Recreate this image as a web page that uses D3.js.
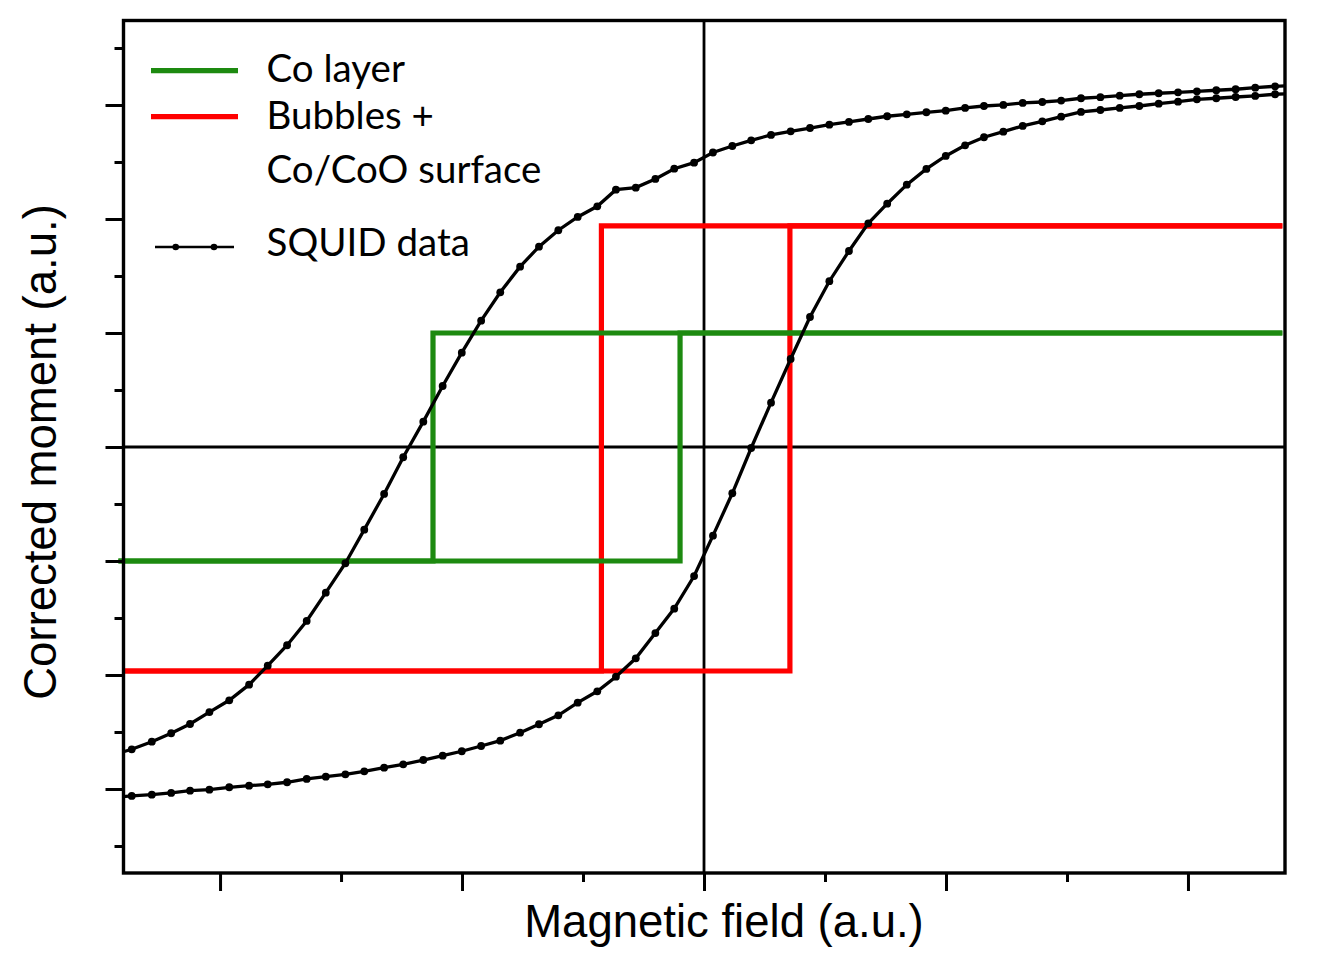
<!DOCTYPE html>
<html>
<head>
<meta charset="utf-8">
<script src="https://cdn.jsdelivr.net/npm/d3@7/dist/d3.min.js"></script>
<style>
  html, body { margin: 0; padding: 0; background: #fff; }
  svg { display: block; }
</style>
</head>
<body>
<svg id="chart" width="1321" height="966"></svg>
<script>
// ---------- DATA ----------
// Field values of the SQUID sweep (a.u.)
const fieldH = [-2.445, -2.365, -2.282, -2.202, -2.124, -2.044, -1.962, -1.880, -1.803, -1.723,
  -1.642, -1.563, -1.482, -1.404, -1.322, -1.243, -1.160, -1.080, -1.001, -0.921,
  -0.842, -0.760, -0.682, -0.602, -0.522, -0.441, -0.364, -0.282, -0.201, -0.123,
  -0.041, 0.037, 0.117, 0.195, 0.277, 0.358, 0.438, 0.518, 0.599, 0.679,
  0.757, 0.838, 0.919, 0.999, 1.079, 1.157, 1.237, 1.317, 1.398, 1.476,
  1.558, 1.638, 1.718, 1.799, 1.879, 1.959, 2.037, 2.117, 2.197, 2.278,
  2.360, 2.438];
// Descending branch (upper curve)
const momentDesc = [-2.702, -2.652, -2.585, -2.511, -2.430, -2.325, -2.222, -2.085, -1.918, -1.739,
  -1.526, -1.278, -1.020, -0.725, -0.412, -0.090, 0.222, 0.535, 0.827, 1.108,
  1.357, 1.582, 1.757, 1.901, 2.018, 2.111, 2.257, 2.275, 2.351, 2.441,
  2.494, 2.583, 2.640, 2.690, 2.737, 2.769, 2.798, 2.827, 2.851, 2.877,
  2.901, 2.918, 2.936, 2.950, 2.974, 2.991, 3.000, 3.018, 3.026, 3.039,
  3.059, 3.068, 3.082, 3.094, 3.103, 3.111, 3.120, 3.129, 3.138, 3.152,
  3.164, 3.171];
// Ascending branch (lower curve)
const momentAsc = [-3.075, -3.061, -3.050, -3.035, -3.015, -3.006, -2.985, -2.971, -2.959, -2.941,
  -2.912, -2.892, -2.871, -2.845, -2.813, -2.784, -2.746, -2.708, -2.669, -2.623,
  -2.576, -2.506, -2.432, -2.354, -2.243, -2.143, -2.015, -1.854, -1.632, -1.418,
  -1.132, -0.778, -0.406, -0.009, 0.389, 0.772, 1.140, 1.454, 1.719, 1.962,
  2.134, 2.301, 2.439, 2.553, 2.646, 2.717, 2.766, 2.816, 2.857, 2.897,
  2.939, 2.956, 2.974, 2.991, 3.011, 3.029, 3.050, 3.059, 3.070, 3.079,
  3.094, 3.101];

// Idealised square loops: [descending branch, ascending branch]
const coLayerH    = [[2.39, -1.120, -1.120, -2.42], [-2.42, -0.099, -0.099, 2.39]];
const coLayerM    = [[1.0, 1.0, -1.0, -1.0],        [-1.0, -1.0, 1.0, 1.0]];
const bubblesH    = [[2.39, -0.424, -0.424, -2.40], [-2.40, 0.355, 0.355, 2.39]];
const bubblesM    = [[1.94, 1.94, -1.965, -1.965],  [-1.965, -1.965, 1.94, 1.94]];

const xMajorTicks = [-2, -1, 0, 1, 2];
const xMinorTicks = [-1.5, -0.5, 0.5, 1.5];
const yMajorTicks = [-3, -2, -1, 0, 1, 2, 3];
const yMinorTicks = [-3.5, -2.5, -1.5, -0.5, 0.5, 1.5, 2.5, 3.5];

const legendLabels = ["Co layer", "Bubbles +", "Co/CoO surface", "SQUID data"];

// ---------- DRAW ----------
const svg = d3.select("#chart");
const L = 123.5, R = 1285, T = 20.5, B = 873;
const x = d3.scaleLinear().domain([-2.399, 2.401]).range([L, R]);
const y = d3.scaleLinear().domain([-3.737, 3.741]).range([B, T]);

const GREEN = "#1d8a10", RED = "#ff0000";

svg.append("defs").append("clipPath").attr("id", "plotclip")
  .append("rect").attr("x", L).attr("y", T).attr("width", R - L).attr("height", B - T);

// zero lines
svg.append("line").attr("x1", L).attr("x2", R).attr("y1", y(0)).attr("y2", y(0))
  .attr("stroke", "#000").attr("stroke-width", 2.8);
svg.append("line").attr("x1", x(0)).attr("x2", x(0)).attr("y1", T).attr("y2", B)
  .attr("stroke", "#000").attr("stroke-width", 2.8);

const line = d3.line().x(d => x(d[0])).y(d => y(d[1]));

function loop(H, M, color) {
  H.forEach((branch, i) => {
    const pts = branch.map((h, j) => [h, M[i][j]]);
    svg.append("path").attr("d", line(pts)).attr("fill", "none")
      .attr("stroke", color).attr("stroke-width", 5.2)
      .attr("stroke-linejoin", "miter").attr("stroke-linecap", "butt");
  });
}
loop(bubblesH, bubblesM, RED);
loop(coLayerH, coLayerM, GREEN);

// SQUID data
const sq = svg.append("g").attr("clip-path", "url(#plotclip)");
[momentDesc, momentAsc].forEach(M => {
  const pts = fieldH.map((h, i) => [h, M[i]]);
  sq.append("path").attr("d", line(pts)).attr("fill", "none")
    .attr("stroke", "#000").attr("stroke-width", 3.3);
  sq.selectAll(null).data(pts).enter().append("circle")
    .attr("cx", d => x(d[0])).attr("cy", d => y(d[1])).attr("r", 3.9).attr("fill", "#000");
});

// Axes
const xAxisMajor = d3.axisBottom(x).tickValues(xMajorTicks).tickSize(18).tickFormat("");
const xAxisMinor = d3.axisBottom(x).tickValues(xMinorTicks).tickSize(9).tickFormat("");
const yAxisMajor = d3.axisLeft(y).tickValues(yMajorTicks).tickSize(18).tickFormat("");
const yAxisMinor = d3.axisLeft(y).tickValues(yMinorTicks).tickSize(9).tickFormat("");
[xAxisMajor, xAxisMinor].forEach(a => {
  const g = svg.append("g").attr("transform", `translate(0,${B})`).call(a);
  g.select(".domain").remove();
  g.selectAll("line").attr("stroke", "#000").attr("stroke-width", 3);
});
[yAxisMajor, yAxisMinor].forEach(a => {
  const g = svg.append("g").attr("transform", `translate(${L},0)`).call(a);
  g.select(".domain").remove();
  g.selectAll("line").attr("stroke", "#000").attr("stroke-width", 3);
});

// frame
svg.append("rect").attr("x", L).attr("y", T).attr("width", R - L).attr("height", B - T)
  .attr("fill", "none").attr("stroke", "#000").attr("stroke-width", 3.4);

// axis titles
svg.append("text").attr("x", 724).attr("y", 937).attr("text-anchor", "middle")
  .attr("font-family", "'Liberation Sans', Arial, sans-serif").attr("font-size", 45.5)
  .attr("fill", "#000").text("Magnetic field (a.u.)");
svg.append("text").attr("transform", "translate(56,452) rotate(-90)").attr("text-anchor", "middle")
  .attr("font-family", "'Liberation Sans', Arial, sans-serif").attr("font-size", 45.5)
  .attr("fill", "#000").text("Corrected moment (a.u.)");

// legend
const lg = svg.append("g");
const legFont = "Lato, 'Open Sans', sans-serif";
lg.append("line").attr("x1", 151).attr("x2", 238).attr("y1", 70.7).attr("y2", 70.7)
  .attr("stroke", GREEN).attr("stroke-width", 5.2);
lg.append("line").attr("x1", 151).attr("x2", 238).attr("y1", 116.7).attr("y2", 116.7)
  .attr("stroke", RED).attr("stroke-width", 5.2);
lg.append("line").attr("x1", 155).attr("x2", 234).attr("y1", 247).attr("y2", 247)
  .attr("stroke", "#000").attr("stroke-width", 2.6);
lg.selectAll(null).data([175.7, 214]).enter().append("circle")
  .attr("cx", d => d).attr("cy", 247).attr("r", 3.3).attr("fill", "#000");
const legY = [81.7, 129.3, 182.7, 256];
lg.selectAll(null).data(legendLabels).enter().append("text")
  .attr("x", 266.5).attr("y", (d, i) => legY[i])
  .attr("font-family", legFont).attr("font-size", 38.5).attr("fill", "#000")
  .text(d => d);
</script>
</body>
</html>
